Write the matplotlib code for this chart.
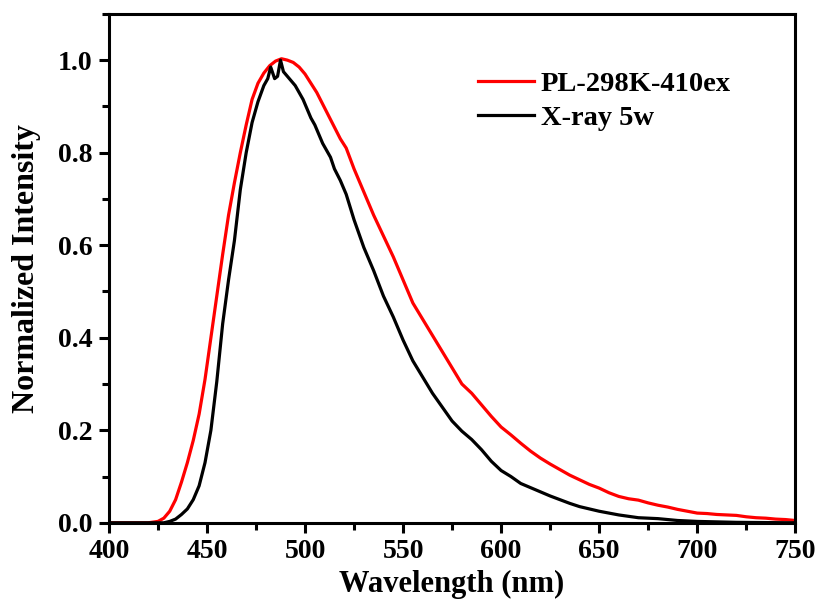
import numpy as np
import matplotlib
matplotlib.use("Agg")
import matplotlib.pyplot as plt
from matplotlib.ticker import MultipleLocator, FormatStrFormatter

# values
pl_wl = [400, 410, 420, 425, 428, 431, 434, 437, 440, 443, 446, 449, 452, 455,
         458, 461, 464, 467, 470, 473, 476, 479, 482, 485, 488, 491, 494, 497,
         500, 503, 506, 509, 512, 515, 518, 521, 525, 530, 535, 540, 545, 550,
         555, 560, 565, 570, 575, 580, 585, 590, 595, 600, 605, 610, 615, 620,
         625, 630, 635, 640, 645, 650, 655, 660, 665, 670, 675, 680, 685, 690,
         695, 700, 705, 710, 715, 720, 725, 730, 735, 740, 745, 750]
pl_int = [0.0, 0.0, 0.0, 0.003, 0.01, 0.025, 0.05, 0.088, 0.13, 0.178, 0.235, 0.31,
          0.40, 0.49, 0.58, 0.665, 0.735, 0.80, 0.86, 0.915, 0.95, 0.972, 0.988,
          0.998, 1.003, 1.0, 0.995, 0.985, 0.97, 0.95, 0.93, 0.905, 0.88, 0.855,
          0.83, 0.81, 0.765, 0.715, 0.665, 0.62, 0.575, 0.525, 0.475, 0.44, 0.405,
          0.37, 0.335, 0.30, 0.28, 0.255, 0.23, 0.207, 0.19, 0.172, 0.155, 0.14,
          0.127, 0.115, 0.103, 0.093, 0.083, 0.075, 0.065, 0.057, 0.052, 0.049,
          0.043, 0.038, 0.034, 0.029, 0.025, 0.021, 0.02, 0.018, 0.017, 0.016,
          0.013, 0.011, 0.01, 0.008, 0.007, 0.005]

xr_wl = [400, 420, 428, 431, 434, 437, 440, 443, 446, 449, 452, 455, 458, 461,
         464, 467, 470, 473, 476, 479, 481, 482.5, 484.5, 486, 487.5, 489, 491,
         493, 495, 497, 499, 501, 503, 505, 507, 509, 511, 513, 515, 518, 521,
         525, 530, 535, 540, 545, 550, 555, 560, 565, 570, 575, 580, 585, 590,
         595, 600, 605, 610, 615, 620, 625, 630, 635, 640, 645, 650, 655, 660,
         665, 670, 675, 680, 685, 690, 695, 700, 710, 720, 750]
xr_int = [0.0, 0.0, 0.0, 0.003, 0.008, 0.018, 0.03, 0.05, 0.08, 0.13, 0.2,
          0.305, 0.43, 0.525, 0.61, 0.72, 0.8, 0.865, 0.91, 0.945, 0.96, 0.985,
          0.96, 0.965, 1.0, 0.975, 0.965, 0.955, 0.945, 0.93, 0.915, 0.895,
          0.875, 0.86, 0.84, 0.82, 0.805, 0.79, 0.765, 0.74, 0.71, 0.655, 0.595,
          0.545, 0.49, 0.445, 0.395, 0.35, 0.315, 0.28, 0.25, 0.22, 0.198, 0.18,
          0.158, 0.133, 0.113, 0.1, 0.085, 0.076, 0.067, 0.058, 0.05, 0.042,
          0.035, 0.03, 0.025, 0.021, 0.017, 0.014, 0.011, 0.01, 0.009, 0.007,
          0.005, 0.004, 0.003, 0.002, 0.001, 0.0]

labels = ["PL-298K-410ex", "X-ray 5w"]

plt.rcParams["font.family"] = ["Liberation Serif", "DejaVu Serif"]
plt.rcParams["font.weight"] = "bold"

fig = plt.figure(figsize=(8.19, 6.03), dpi=100)
ax = fig.add_axes([0.133, 0.133, 0.838, 0.844])

ax.plot(pl_wl, pl_int, color="#ff0000", lw=2.3, label=labels[0])
ax.plot(xr_wl, xr_int, color="black", lw=2.3, label=labels[1])

ax.set_xlim(400, 750)
ax.set_ylim(0, 1.1)
ax.xaxis.set_major_locator(MultipleLocator(50))
ax.xaxis.set_minor_locator(MultipleLocator(25))
ax.yaxis.set_major_locator(MultipleLocator(0.2))
ax.yaxis.set_minor_locator(MultipleLocator(0.1))
ax.yaxis.set_major_formatter(FormatStrFormatter("%.1f"))

for s in ax.spines.values():
    s.set_linewidth(2.2)
ax.tick_params(which="major", direction="out", length=7, width=2.2,
               labelsize=20, pad=5)
ax.tick_params(which="minor", direction="out", length=5, width=2.2)

ax.set_xlabel("Wavelength (nm)", fontsize=22, fontweight="bold", labelpad=4)
ax.set_ylabel("Normalized Intensity", fontsize=23, fontweight="bold",
              va="center")
ax.yaxis.set_label_coords(-0.12, 0.5)

ax.legend(loc="upper left", bbox_to_anchor=(478 / 819, 1 - 71 / 603),
          bbox_transform=fig.transFigure, frameon=False, fontsize=20.5,
          borderpad=0, borderaxespad=0, handlelength=1.95, handletextpad=0.25,
          labelspacing=0.3)

fig.savefig("out.png", dpi=100)
